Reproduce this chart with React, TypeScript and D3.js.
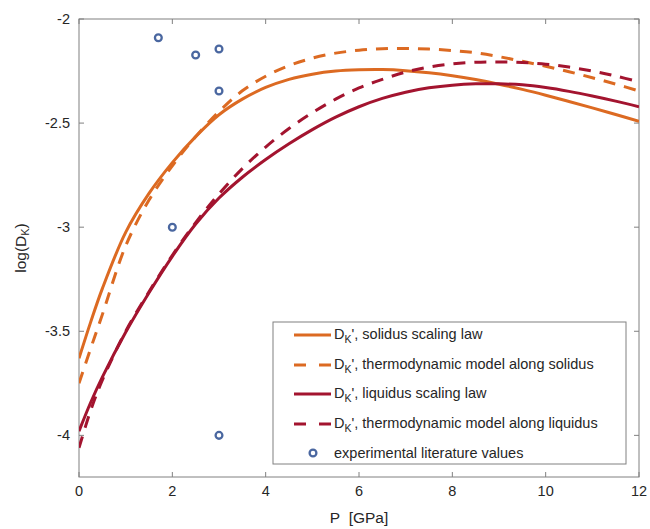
import React from "react";
import * as d3 from "d3";

const pressure = [0, 0.25, 0.5, 1, 1.5, 2, 2.5, 3, 3.5, 4, 4.5, 5, 5.5, 6, 6.5, 7, 7.5, 8, 8.5, 9, 9.5, 10, 10.5, 11, 11.5, 12];
const solidusLaw = [-3.63, -3.456, -3.295, -3.025, -2.838, -2.69, -2.565, -2.46, -2.385, -2.329, -2.29, -2.265, -2.25, -2.244, -2.243, -2.248, -2.258, -2.2725, -2.291, -2.313, -2.338, -2.366, -2.396, -2.427, -2.459, -2.491];
const solidusModel = [-3.75, -3.5825, -3.42, -3.09, -2.87, -2.705, -2.565, -2.445, -2.345, -2.275, -2.224, -2.188, -2.164, -2.15, -2.143, -2.1415, -2.1445, -2.1515, -2.1625, -2.181, -2.203, -2.227, -2.253, -2.282, -2.313, -2.346];
const liquidusLaw = [-3.98, -3.842, -3.72, -3.505, -3.315, -3.14, -2.985, -2.86, -2.76, -2.675, -2.5995, -2.5315, -2.4715, -2.4215, -2.3815, -2.3515, -2.3307, -2.3177, -2.3114, -2.3114, -2.3164, -2.3294, -2.3477, -2.3697, -2.3944, -2.4214];
const liquidusModel = [-4.06, -3.88, -3.735, -3.5, -3.31, -3.135, -2.978, -2.84, -2.7187, -2.615, -2.526, -2.45, -2.385, -2.3312, -2.29, -2.255, -2.231, -2.216, -2.208, -2.206, -2.209, -2.217, -2.231, -2.25, -2.274, -2.302];

const expP = [1.7, 2.5, 3.0, 3.0, 2.0, 3.0];
const expD = [-2.09, -2.173, -2.144, -2.346, -3.0, -4.0];

const xTicks = [0, 2, 4, 6, 8, 10, 12];
const yTicks = [-4, -3.5, -3, -2.5, -2];
const yTickLabels = ["-4", "-3.5", "-3", "-2.5", "-2"];

const ORANGE = "#DC6A22";
const RED = "#A3142F";
const BLUE = "#4A67A0";
const AXIS = "#808080";
const TEXT = "#262626";

const series = [
  { name: "solidus scaling law", values: solidusLaw, color: ORANGE, dash: null },
  { name: "thermodynamic model along solidus", values: solidusModel, color: ORANGE, dash: "12,9" },
  { name: "liquidus scaling law", values: liquidusLaw, color: RED, dash: null },
  { name: "thermodynamic model along liquidus", values: liquidusModel, color: RED, dash: "12,9" },
];

export default function App() {
  const W = 650, H = 529;
  const L = 79, R = 639, T = 19, B = 477;
  const x = d3.scaleLinear().domain([0, 12]).range([L, R]);
  const y = d3.scaleLinear().domain([-4.2, -2]).range([B, T]);
  const line = d3
    .line<number>()
    .x((_, i) => x(pressure[i]))
    .y((d) => y(d))
    .curve(d3.curveCatmullRom.alpha(0.5));

  const font = "'Liberation Sans', Arial, Helvetica, sans-serif";
  const lgX = 273, lgY = 322, lgW = 353, lgH = 142;
  const rows = [335, 365, 394, 424, 453];

  return (
    <svg width={W} height={H} style={{ position: "absolute", left: 0, top: 0, background: "#fff" }} fontFamily={font}>
      <rect x={0} y={0} width={W} height={H} fill="#fff" />
      <defs>
        <clipPath id="plot">
          <rect x={L} y={T} width={R - L} height={B - T} />
        </clipPath>
      </defs>
      <rect x={L} y={T} width={R - L} height={B - T} fill="none" stroke={AXIS} strokeWidth={1} />
      {xTicks.map((t) => (
        <g key={"x" + t}>
          <line x1={x(t)} x2={x(t)} y1={B} y2={B - 5} stroke={AXIS} />
          <line x1={x(t)} x2={x(t)} y1={T} y2={T + 5} stroke={AXIS} />
          <text x={x(t)} y={496} textAnchor="middle" fontSize={14.5} fill={TEXT}>{t}</text>
        </g>
      ))}
      {yTicks.map((t, i) => (
        <g key={"y" + t}>
          <line x1={L} x2={L + 5} y1={y(t)} y2={y(t)} stroke={AXIS} />
          <line x1={R} x2={R - 5} y1={y(t)} y2={y(t)} stroke={AXIS} />
          <text x={70} y={y(t) + 5} textAnchor="end" fontSize={14.5} fill={TEXT}>{yTickLabels[i]}</text>
        </g>
      ))}
      <text x={(L + R) / 2} y={523} textAnchor="middle" fontSize={15.5} fill={TEXT}>
        {"P\u00A0\u00A0[GPa]"}
      </text>
      <text transform={`translate(26, ${(T + B) / 2}) rotate(-90)`} textAnchor="middle" fontSize={15.5} fill={TEXT}>
        log(D<tspan baselineShift="-30%" fontSize={11}>K</tspan>)
      </text>
      <g clipPath="url(#plot)">
        {series.map((s) => (
          <path
            key={s.name}
            d={line(s.values) || ""}
            fill="none"
            stroke={s.color}
            strokeWidth={3}
            strokeDasharray={s.dash || undefined}
          />
        ))}
        {expP.map((p, i) => (
          <circle key={"m" + i} cx={x(p)} cy={y(expD[i])} r={3.4} fill="none" stroke={BLUE} strokeWidth={2.3} />
        ))}
      </g>
      <rect x={lgX} y={lgY} width={lgW} height={lgH} fill="#fff" stroke={AXIS} strokeWidth={1} />
      {series.map((s, i) => (
        <g key={"lg" + i}>
          <line x1={294} x2={331} y1={rows[i]} y2={rows[i]} stroke={s.color} strokeWidth={3} strokeDasharray={s.dash ? "12,13" : undefined} />
          <text x={334} y={rows[i] + 4} fontSize={14.5} fill={TEXT}>
            D<tspan baselineShift="-35%" fontSize={10.5}>K</tspan>
            <tspan>', {s.name}</tspan>
          </text>
        </g>
      ))}
      <circle cx={313} cy={rows[4]} r={3.4} fill="none" stroke={BLUE} strokeWidth={2.3} />
      <text x={334} y={rows[4] + 5} fontSize={14.5} fill={TEXT}>experimental literature values</text>
    </svg>
  );
}
